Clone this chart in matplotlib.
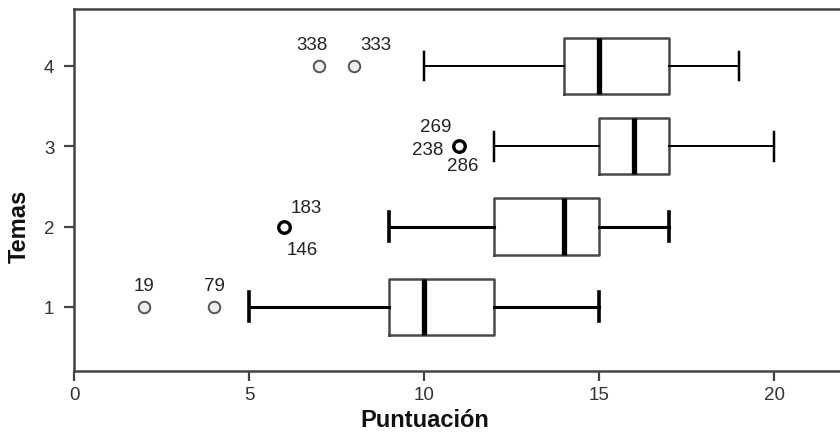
import matplotlib
matplotlib.use("Agg")
import matplotlib.pyplot as plt

plt.rcParams['font.family'] = ['Liberation Sans', 'DejaVu Sans']

temas = [1, 2, 3, 4]
whisker_low = [5, 9, 12, 10]
q1 = [9, 12, 15, 14]
median = [10, 14, 16, 15]
q3 = [12, 15, 17, 17]
whisker_high = [15, 17, 20, 19]
outliers = [[2, 4], [6], [11], [7, 8]]
outlier_ids = [["19", "79"], ["183", "146"], ["269", "238", "286"], ["338", "333"]]

W, H = 840, 435
fig = plt.figure(figsize=(8.4, 4.35), dpi=100)
ax = fig.add_axes([74/W, 1-372/H, 1-74/W, (372-10)/H])

thick = [2.2, 2.2, 1.4, 1.4]
for i in range(len(temas)):
    s = dict(med=median[i], q1=q1[i], q3=q3[i],
             whislo=whisker_low[i], whishi=whisker_high[i], fliers=[])
    ax.bxp([s], positions=[temas[i]], vert=False, widths=0.7, showfliers=False,
           boxprops=dict(color='#4a4a44', linewidth=1.8),
           medianprops=dict(color='black', linewidth=3.8, solid_capstyle='butt'),
           whiskerprops=dict(color='black', linewidth=thick[i]),
           capprops=dict(color='black', linewidth=thick[i] + 0.4),
           capwidths=0.36)

# outliers
for i, pts in enumerate(outliers):
    bold = i in (1, 2)
    for p in pts:
        ax.plot(p, temas[i], marker='o', ms=8.3,
                mfc='white' if bold else '#eeeeee',
                mec='black' if bold else '#555555',
                mew=2.4 if bold else 1.4, zorder=5)

# outlier case labels: offsets in points (style only)
offsets = [[(0, 15), (0, 15)],
           [(15.8, 13.7), (13.3, -16.6)],
           [(-16.6, 14.4), (-22.7, -2.5), (2.5, -14)],
           [(-5.4, 15.5), (16, 15.5)]]
for i, pts in enumerate(outliers):
    for j, lab in enumerate(outlier_ids[i]):
        p = pts[0] if len(pts) == 1 else pts[j]
        ax.annotate(lab, (p, temas[i]), xytext=offsets[i][j], textcoords='offset points',
                    ha='center', va='center', fontsize=13.5, color='#222222')

ax.set_xlim(0, 21.88)
ax.set_ylim(0.2, 4.71)
ax.set_xticks([0, 5, 10, 15, 20])
ax.set_yticks(temas)
ax.set_yticklabels([str(t) for t in temas])
ax.tick_params(axis='both', labelsize=13.5, labelcolor='#333333', color='#444444',
               length=7.2, width=1.6)
ax.tick_params(axis='y', pad=7)
ax.tick_params(axis='x', pad=3.5)
for side in ('left', 'bottom', 'top'):
    ax.spines[side].set_linewidth(1.8)
    ax.spines[side].set_color('#444444')
ax.spines['right'].set_visible(False)

ax.set_xlabel('Puntuación', fontsize=17, fontweight='bold', color='#111111')
ax.set_ylabel('Temas', fontsize=17, fontweight='bold', color='#111111')
ax.xaxis.set_label_coords((425-74)/(W-74), -(421-372)/(372-10))
ax.xaxis.label.set_va('center')
ax.yaxis.set_label_coords(-(74-19)/(W-74), (372-226)/(372-10))
ax.yaxis.label.set_va('center')

fig.savefig('out.png', dpi=100)
